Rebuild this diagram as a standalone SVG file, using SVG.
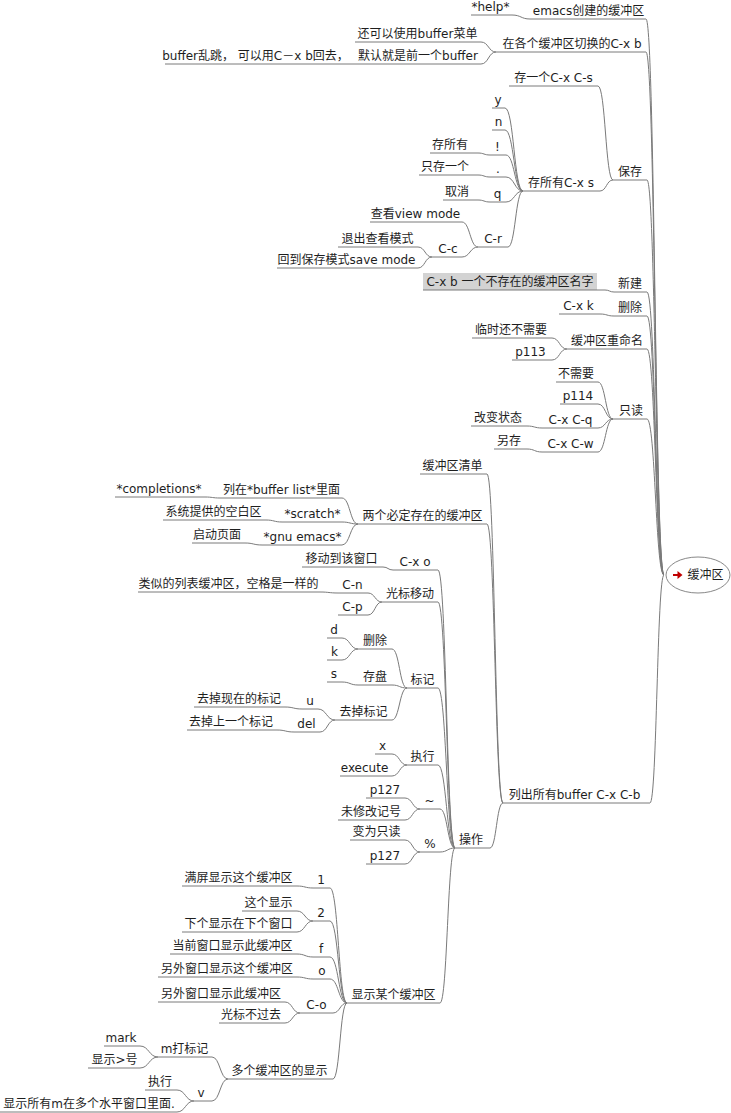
<svg xmlns="http://www.w3.org/2000/svg" width="731" height="1113" viewBox="0 0 731 1113">
<style>
.t{font-family:"DejaVu Sans","Noto Sans CJK SC",sans-serif;font-size:12px;fill:#1e1e1e;text-anchor:middle}
.u{stroke:#7a7a7a;stroke-width:1}
.c{fill:none;stroke:#7a7a7a;stroke-width:1}
</style>
<rect width="731" height="1113" fill="#fff"/>
<g id="connectors" class="c">
<path d="M646 19C655 19 655 575 664 575"/>
<path d="M646 52C655 52 655 575 664 575"/>
<path d="M647 180C655.5 180 655.5 575 664 575"/>
<path d="M647 292C655.5 292 655.5 575 664 575"/>
<path d="M647 316C655.5 316 655.5 575 664 575"/>
<path d="M647 349C655.5 349 655.5 575 664 575"/>
<path d="M647 419C655.5 419 655.5 575 664 575"/>
<path d="M650 803C657 803 657 575 664 575"/>
<path d="M512 15C521 15 521 19 530 19"/>
<path d="M481 42C488.5 42 488.5 52 496 52"/>
<path d="M481 64C488.5 64 488.5 52 496 52"/>
<path d="M347 64H355"/>
<path d="M598 86C605.5 86 605.5 180 613 180"/>
<path d="M600 191C606.5 191 606.5 180 613 180"/>
<path d="M505 108C514 108 514 191 523 191"/>
<path d="M505 130C514 130 514 191 523 191"/>
<path d="M506 155C514.5 155 514.5 191 523 191"/>
<path d="M506 177C514.5 177 514.5 191 523 191"/>
<path d="M506 202C514.5 202 514.5 191 523 191"/>
<path d="M508 247C515.5 247 515.5 191 523 191"/>
<path d="M478 153C484 153 484 155 490 155"/>
<path d="M478 175C484 175 484 177 490 177"/>
<path d="M478 200C484 200 484 202 490 202"/>
<path d="M462 222C470 222 470 247 478 247"/>
<path d="M462 257C470 257 470 247 478 247"/>
<path d="M418 247C425 247 425 257 432 257"/>
<path d="M418 268C425 268 425 257 432 257"/>
<path d="M605 290C609.5 290 609.5 292 614 292"/>
<path d="M600 314C607 314 607 316 614 316"/>
<path d="M552 338C559.5 338 559.5 349 567 349"/>
<path d="M552 360C559.5 360 559.5 349 567 349"/>
<path d="M598 382C605.5 382 605.5 419 613 419"/>
<path d="M598 404C605.5 404 605.5 419 613 419"/>
<path d="M598 428C605.5 428 605.5 419 613 419"/>
<path d="M598 452C605.5 452 605.5 419 613 419"/>
<path d="M527 426C534.5 426 534.5 428 542 428"/>
<path d="M527 449C534.5 449 534.5 452 542 452"/>
<path d="M487 474C495 474 495 803 503 803"/>
<path d="M487 524C495 524 495 803 503 803"/>
<path d="M490 848C496.5 848 496.5 803 503 803"/>
<path d="M342 498C350 498 350 524 358 524"/>
<path d="M342 522C350 522 350 524 358 524"/>
<path d="M342 545C350 545 350 524 358 524"/>
<path d="M205 497C212.5 497 212.5 498 220 498"/>
<path d="M266 520C274 520 274 522 282 522"/>
<path d="M245 543C253.5 543 253.5 545 262 545"/>
<path d="M438 570C446.5 570 446.5 848 455 848"/>
<path d="M438 602C446.5 602 446.5 848 455 848"/>
<path d="M438 688C446.5 688 446.5 848 455 848"/>
<path d="M438 765C446.5 765 446.5 848 455 848"/>
<path d="M440 809C447.5 809 447.5 848 455 848"/>
<path d="M440 852C447.5 852 447.5 848 455 848"/>
<path d="M440 1003C447.5 1003 447.5 848 455 848"/>
<path d="M383 567C388 567 388 570 393 570"/>
<path d="M368 593C375 593 375 602 382 602"/>
<path d="M368 615C375 615 375 602 382 602"/>
<path d="M320 592C329 592 329 593 338 593"/>
<path d="M392 649C399.5 649 399.5 688 407 688"/>
<path d="M392 685C399.5 685 399.5 688 407 688"/>
<path d="M392 720C399.5 720 399.5 688 407 688"/>
<path d="M342 638C350 638 350 649 358 649"/>
<path d="M342 660C350 660 350 649 358 649"/>
<path d="M342 682C350 682 350 685 358 685"/>
<path d="M318 709C326.5 709 326.5 720 335 720"/>
<path d="M320 732C327.5 732 327.5 720 335 720"/>
<path d="M285 707C293.5 707 293.5 709 302 709"/>
<path d="M277 730C285.5 730 285.5 732 294 732"/>
<path d="M392 754C399.5 754 399.5 765 407 765"/>
<path d="M392 776C399.5 776 399.5 765 407 765"/>
<path d="M405 798C412.5 798 412.5 809 420 809"/>
<path d="M405 820C412.5 820 412.5 809 420 809"/>
<path d="M405 840C412.5 840 412.5 852 420 852"/>
<path d="M405 864C412.5 864 412.5 852 420 852"/>
<path d="M330 888C338.5 888 338.5 1003 347 1003"/>
<path d="M330 921C338.5 921 338.5 1003 347 1003"/>
<path d="M330 957C338.5 957 338.5 1003 347 1003"/>
<path d="M330 979C338.5 979 338.5 1003 347 1003"/>
<path d="M333 1013C340 1013 340 1003 347 1003"/>
<path d="M333 1079C340 1079 340 1003 347 1003"/>
<path d="M297 886C305 886 305 888 313 888"/>
<path d="M297 911C305 911 305 921 313 921"/>
<path d="M297 932C305 932 305 921 313 921"/>
<path d="M297 954C305 954 305 957 313 957"/>
<path d="M297 977C305 977 305 979 313 979"/>
<path d="M285 1002C292.5 1002 292.5 1013 300 1013"/>
<path d="M285 1023C292.5 1023 292.5 1013 300 1013"/>
<path d="M212 1057C220 1057 220 1079 228 1079"/>
<path d="M212 1101C220 1101 220 1079 228 1079"/>
<path d="M140 1046C149 1046 149 1057 158 1057"/>
<path d="M140 1068C149 1068 149 1057 158 1057"/>
<path d="M177 1090C185.5 1090 185.5 1101 194 1101"/>
<path d="M177 1112C185.5 1112 185.5 1101 194 1101"/>
</g>
<g id="root">
<ellipse cx="698" cy="575" rx="32" ry="18" fill="#fff" stroke="#888" stroke-width="1"/>
<path d="M673 575H679" stroke="#c00000" stroke-width="2"/>
<path d="M677.5 571L682.5 575L677.5 579Z" fill="#c00000"/>
<text class="t" x="705.5" y="579">缓冲区</text>
</g>
<g id="n1"><text class="t" x="588.5" y="15">emacs创建的缓冲区</text><line class="u" x1="530" y1="19" x2="646" y2="19"/></g>
<g id="n1a"><text class="t" x="490.5" y="11">*help*</text><line class="u" x1="471" y1="15" x2="512" y2="15"/></g>
<g id="n2"><text class="t" x="572" y="48">在各个缓冲区切换的C-x b</text><line class="u" x1="496" y1="52" x2="646" y2="52"/></g>
<g id="n2a"><text class="t" x="417.5" y="38">还可以使用buffer菜单</text><line class="u" x1="355" y1="42" x2="481" y2="42"/></g>
<g id="n2b"><text class="t" x="418" y="60">默认就是前一个buffer</text><line class="u" x1="355" y1="64" x2="481" y2="64"/></g>
<g id="n2b1"><text class="t" x="255.5" y="60">buffer乱跳， 可以用C－x b回去，</text><line class="u" x1="165" y1="64" x2="347" y2="64"/></g>
<g id="n3"><text class="t" x="630" y="176">保存</text><line class="u" x1="613" y1="180" x2="647" y2="180"/></g>
<g id="n3a"><text class="t" x="553.5" y="82">存一个C-x C-s</text><line class="u" x1="509" y1="86" x2="598" y2="86"/></g>
<g id="n3b"><text class="t" x="561" y="187">存所有C-x s</text><line class="u" x1="523" y1="191" x2="600" y2="191"/></g>
<g id="n3b1"><text class="t" x="498" y="104">y</text><line class="u" x1="492" y1="108" x2="505" y2="108"/></g>
<g id="n3b2"><text class="t" x="498.5" y="126">n</text><line class="u" x1="492" y1="130" x2="505" y2="130"/></g>
<g id="n3b3"><text class="t" x="497.5" y="151">!</text><line class="u" x1="490" y1="155" x2="506" y2="155"/></g>
<g id="n3b3a"><text class="t" x="450" y="149">存所有</text><line class="u" x1="430" y1="153" x2="478" y2="153"/></g>
<g id="n3b4"><text class="t" x="498" y="173">.</text><line class="u" x1="490" y1="177" x2="506" y2="177"/></g>
<g id="n3b4a"><text class="t" x="445" y="171">只存一个</text><line class="u" x1="419" y1="175" x2="478" y2="175"/></g>
<g id="n3b5"><text class="t" x="497.5" y="198">q</text><line class="u" x1="490" y1="202" x2="506" y2="202"/></g>
<g id="n3b5a"><text class="t" x="457" y="196">取消</text><line class="u" x1="443" y1="200" x2="478" y2="200"/></g>
<g id="n3b6"><text class="t" x="493" y="243">C-r</text><line class="u" x1="478" y1="247" x2="508" y2="247"/></g>
<g id="n3b6a"><text class="t" x="415.5" y="218">查看view mode</text><line class="u" x1="370" y1="222" x2="462" y2="222"/></g>
<g id="n3b6b"><text class="t" x="448" y="253">C-c</text><line class="u" x1="432" y1="257" x2="462" y2="257"/></g>
<g id="n3b6b1"><text class="t" x="377.5" y="243">退出查看模式</text><line class="u" x1="338" y1="247" x2="418" y2="247"/></g>
<g id="n3b6b2"><text class="t" x="346.5" y="264">回到保存模式save mode</text><line class="u" x1="277" y1="268" x2="418" y2="268"/></g>
<g id="n4"><text class="t" x="630" y="288">新建</text><line class="u" x1="614" y1="292" x2="647" y2="292"/></g>
<g id="n4a"><rect x="423" y="273" width="174" height="17" fill="#d3d3d3"/><text class="t" x="510" y="286">C-x b 一个不存在的缓冲区名字</text><line class="u" x1="423" y1="290" x2="605" y2="290"/></g>
<g id="n5"><text class="t" x="630" y="312">删除</text><line class="u" x1="614" y1="316" x2="647" y2="316"/></g>
<g id="n5a"><text class="t" x="578.5" y="310">C-x k</text><line class="u" x1="559" y1="314" x2="600" y2="314"/></g>
<g id="n6"><text class="t" x="607" y="345">缓冲区重命名</text><line class="u" x1="567" y1="349" x2="647" y2="349"/></g>
<g id="n6a"><text class="t" x="511" y="334">临时还不需要</text><line class="u" x1="472" y1="338" x2="552" y2="338"/></g>
<g id="n6b"><text class="t" x="530.5" y="356">p113</text><line class="u" x1="512" y1="360" x2="552" y2="360"/></g>
<g id="n7"><text class="t" x="631" y="415">只读</text><line class="u" x1="613" y1="419" x2="647" y2="419"/></g>
<g id="n7a"><text class="t" x="576" y="378">不需要</text><line class="u" x1="556" y1="382" x2="598" y2="382"/></g>
<g id="n7b"><text class="t" x="578" y="400">p114</text><line class="u" x1="560" y1="404" x2="598" y2="404"/></g>
<g id="n7c"><text class="t" x="570.5" y="424">C-x C-q</text><line class="u" x1="542" y1="428" x2="598" y2="428"/></g>
<g id="n7c1"><text class="t" x="498" y="422">改变状态</text><line class="u" x1="471" y1="426" x2="527" y2="426"/></g>
<g id="n7d"><text class="t" x="570.5" y="448">C-x C-w</text><line class="u" x1="542" y1="452" x2="598" y2="452"/></g>
<g id="n7d1"><text class="t" x="509" y="445">另存</text><line class="u" x1="494" y1="449" x2="527" y2="449"/></g>
<g id="n8"><text class="t" x="574.5" y="799">列出所有buffer C-x C-b</text><line class="u" x1="503" y1="803" x2="650" y2="803"/></g>
<g id="n8a"><text class="t" x="452.5" y="470">缓冲区清单</text><line class="u" x1="420" y1="474" x2="487" y2="474"/></g>
<g id="n8b"><text class="t" x="422.5" y="520">两个必定存在的缓冲区</text><line class="u" x1="358" y1="524" x2="487" y2="524"/></g>
<g id="n8b1"><text class="t" x="281.5" y="494">列在*buffer list*里面</text><line class="u" x1="220" y1="498" x2="342" y2="498"/></g>
<g id="n8b1a"><text class="t" x="159" y="493">*completions*</text><line class="u" x1="115" y1="497" x2="205" y2="497"/></g>
<g id="n8b2"><text class="t" x="312.5" y="518">*scratch*</text><line class="u" x1="282" y1="522" x2="342" y2="522"/></g>
<g id="n8b2a"><text class="t" x="213.5" y="516">系统提供的空白区</text><line class="u" x1="163" y1="520" x2="266" y2="520"/></g>
<g id="n8b3"><text class="t" x="302.5" y="541">*gnu emacs*</text><line class="u" x1="262" y1="545" x2="342" y2="545"/></g>
<g id="n8b3a"><text class="t" x="217" y="539">启动页面</text><line class="u" x1="192" y1="543" x2="245" y2="543"/></g>
<g id="n8c"><text class="t" x="471" y="844">操作</text><line class="u" x1="455" y1="848" x2="490" y2="848"/></g>
<g id="c1"><text class="t" x="415" y="566">C-x o</text><line class="u" x1="393" y1="570" x2="438" y2="570"/></g>
<g id="c1a"><text class="t" x="341.5" y="563">移动到该窗口</text><line class="u" x1="302" y1="567" x2="383" y2="567"/></g>
<g id="c2"><text class="t" x="410" y="598">光标移动</text><line class="u" x1="382" y1="602" x2="438" y2="602"/></g>
<g id="c2a"><text class="t" x="352.5" y="589">C-n</text><line class="u" x1="338" y1="593" x2="368" y2="593"/></g>
<g id="c2a1"><text class="t" x="228.5" y="588">类似的列表缓冲区，空格是一样的</text><line class="u" x1="138" y1="592" x2="320" y2="592"/></g>
<g id="c2b"><text class="t" x="352.5" y="611">C-p</text><line class="u" x1="338" y1="615" x2="368" y2="615"/></g>
<g id="c3"><text class="t" x="422.5" y="684">标记</text><line class="u" x1="407" y1="688" x2="438" y2="688"/></g>
<g id="c3a"><text class="t" x="375" y="645">删除</text><line class="u" x1="358" y1="649" x2="392" y2="649"/></g>
<g id="c3a1"><text class="t" x="334" y="634">d</text><line class="u" x1="327" y1="638" x2="342" y2="638"/></g>
<g id="c3a2"><text class="t" x="334.5" y="656">k</text><line class="u" x1="327" y1="660" x2="342" y2="660"/></g>
<g id="c3b"><text class="t" x="375" y="681">存盘</text><line class="u" x1="358" y1="685" x2="392" y2="685"/></g>
<g id="c3b1"><text class="t" x="334" y="678">s</text><line class="u" x1="327" y1="682" x2="342" y2="682"/></g>
<g id="c3c"><text class="t" x="363.5" y="716">去掉标记</text><line class="u" x1="335" y1="720" x2="392" y2="720"/></g>
<g id="c3c1"><text class="t" x="310" y="705">u</text><line class="u" x1="302" y1="709" x2="318" y2="709"/></g>
<g id="c3c1a"><text class="t" x="239" y="703">去掉现在的标记</text><line class="u" x1="194" y1="707" x2="285" y2="707"/></g>
<g id="c3c2"><text class="t" x="306.5" y="728">del</text><line class="u" x1="294" y1="732" x2="320" y2="732"/></g>
<g id="c3c2a"><text class="t" x="231" y="726">去掉上一个标记</text><line class="u" x1="187" y1="730" x2="277" y2="730"/></g>
<g id="c4"><text class="t" x="422.5" y="761">执行</text><line class="u" x1="407" y1="765" x2="438" y2="765"/></g>
<g id="c4a"><text class="t" x="382.5" y="750">x</text><line class="u" x1="375" y1="754" x2="392" y2="754"/></g>
<g id="c4b"><text class="t" x="364.5" y="772">execute</text><line class="u" x1="340" y1="776" x2="392" y2="776"/></g>
<g id="c5"><text class="t" x="429.5" y="805">~</text><line class="u" x1="420" y1="809" x2="440" y2="809"/></g>
<g id="c5a"><text class="t" x="385" y="794">p127</text><line class="u" x1="366" y1="798" x2="405" y2="798"/></g>
<g id="c5b"><text class="t" x="371" y="816">未修改记号</text><line class="u" x1="338" y1="820" x2="405" y2="820"/></g>
<g id="c6"><text class="t" x="430" y="848">%</text><line class="u" x1="420" y1="852" x2="440" y2="852"/></g>
<g id="c6a"><text class="t" x="376.5" y="836">变为只读</text><line class="u" x1="350" y1="840" x2="405" y2="840"/></g>
<g id="c6b"><text class="t" x="385" y="860">p127</text><line class="u" x1="366" y1="864" x2="405" y2="864"/></g>
<g id="c7"><text class="t" x="393.5" y="999">显示某个缓冲区</text><line class="u" x1="347" y1="1003" x2="440" y2="1003"/></g>
<g id="c7a"><text class="t" x="321" y="884">1</text><line class="u" x1="313" y1="888" x2="330" y2="888"/></g>
<g id="c7a1"><text class="t" x="238.5" y="882">满屏显示这个缓冲区</text><line class="u" x1="182" y1="886" x2="297" y2="886"/></g>
<g id="c7b"><text class="t" x="321" y="917">2</text><line class="u" x1="313" y1="921" x2="330" y2="921"/></g>
<g id="c7b1"><text class="t" x="268.5" y="907">这个显示</text><line class="u" x1="242" y1="911" x2="297" y2="911"/></g>
<g id="c7b2"><text class="t" x="238.5" y="928">下个显示在下个窗口</text><line class="u" x1="182" y1="932" x2="297" y2="932"/></g>
<g id="c7c"><text class="t" x="321" y="953">f</text><line class="u" x1="313" y1="957" x2="330" y2="957"/></g>
<g id="c7c1"><text class="t" x="232.5" y="950">当前窗口显示此缓冲区</text><line class="u" x1="170" y1="954" x2="297" y2="954"/></g>
<g id="c7d"><text class="t" x="322" y="975">o</text><line class="u" x1="313" y1="979" x2="330" y2="979"/></g>
<g id="c7d1"><text class="t" x="227" y="973">另外窗口显示这个缓冲区</text><line class="u" x1="158" y1="977" x2="297" y2="977"/></g>
<g id="c7e"><text class="t" x="316.5" y="1009">C-o</text><line class="u" x1="300" y1="1013" x2="333" y2="1013"/></g>
<g id="c7e1"><text class="t" x="221" y="998">另外窗口显示此缓冲区</text><line class="u" x1="158" y1="1002" x2="285" y2="1002"/></g>
<g id="c7e2"><text class="t" x="251" y="1019">光标不过去</text><line class="u" x1="219" y1="1023" x2="285" y2="1023"/></g>
<g id="c7f"><text class="t" x="279.5" y="1075">多个缓冲区的显示</text><line class="u" x1="228" y1="1079" x2="333" y2="1079"/></g>
<g id="c7f1"><text class="t" x="184.5" y="1053">m打标记</text><line class="u" x1="158" y1="1057" x2="212" y2="1057"/></g>
<g id="c7f1a"><text class="t" x="121" y="1042">mark</text><line class="u" x1="104" y1="1046" x2="140" y2="1046"/></g>
<g id="c7f1b"><text class="t" x="114.5" y="1064">显示&gt;号</text><line class="u" x1="88" y1="1068" x2="140" y2="1068"/></g>
<g id="c7f2"><text class="t" x="201" y="1097">v</text><line class="u" x1="194" y1="1101" x2="212" y2="1101"/></g>
<g id="c7f2a"><text class="t" x="160" y="1086">执行</text><line class="u" x1="145" y1="1090" x2="177" y2="1090"/></g>
<g id="c7f2b"><text class="t" x="89" y="1108">显示所有m在多个水平窗口里面.</text><line class="u" x1="0" y1="1112" x2="177" y2="1112"/></g>
</svg>
